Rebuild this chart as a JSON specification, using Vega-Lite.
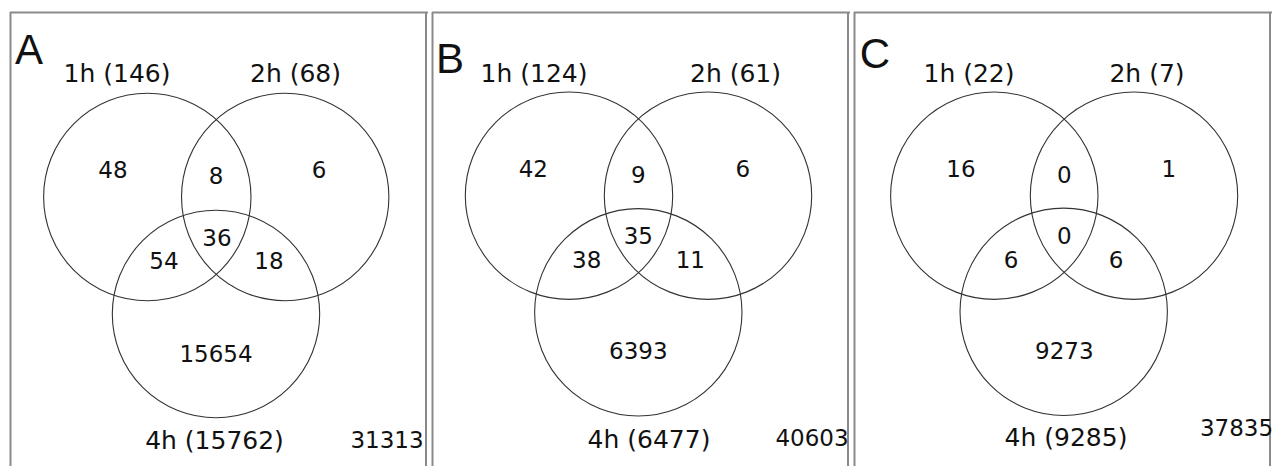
{
  "$schema": "https://vega.github.io/schema/vega-lite/v6.json",
  "padding": {"left": 9, "top": 11, "right": 5, "bottom": 0},
  "background": "white",
  "bounds": "flush",
  "data": {"values": [
    {"panel": "A", "kind": "letter", "x": 19, "y": 52, "label": "A"},
    {"panel": "A", "kind": "circle", "set": "1h", "x": 137.3, "y": 185},
    {"panel": "A", "kind": "circle", "set": "2h", "x": 275.2, "y": 185},
    {"panel": "A", "kind": "circle", "set": "4h", "x": 206, "y": 302},
    {"panel": "A", "kind": "setlabel", "x": 107, "y": 70, "label": "1h (146)"},
    {"panel": "A", "kind": "setlabel", "x": 285.5, "y": 70, "label": "2h (68)"},
    {"panel": "A", "kind": "setlabel", "x": 204.5, "y": 437, "label": "4h (15762)"},
    {"panel": "A", "kind": "count", "x": 103, "y": 166, "label": "48"},
    {"panel": "A", "kind": "count", "x": 206, "y": 172, "label": "8"},
    {"panel": "A", "kind": "count", "x": 309, "y": 166, "label": "6"},
    {"panel": "A", "kind": "count", "x": 207, "y": 234, "label": "36"},
    {"panel": "A", "kind": "count", "x": 154, "y": 257, "label": "54"},
    {"panel": "A", "kind": "count", "x": 259, "y": 257, "label": "18"},
    {"panel": "A", "kind": "count", "x": 206, "y": 350, "label": "15654"},
    {"panel": "A", "kind": "count", "x": 377, "y": 436, "label": "31313"},

    {"panel": "B", "kind": "letter", "x": 18, "y": 61, "label": "B"},
    {"panel": "B", "kind": "circle", "set": "1h", "x": 137, "y": 183.7},
    {"panel": "B", "kind": "circle", "set": "2h", "x": 276, "y": 183.7},
    {"panel": "B", "kind": "circle", "set": "4h", "x": 206.3, "y": 300.3},
    {"panel": "B", "kind": "setlabel", "x": 102, "y": 70, "label": "1h (124)"},
    {"panel": "B", "kind": "setlabel", "x": 303.5, "y": 70, "label": "2h (61)"},
    {"panel": "B", "kind": "setlabel", "x": 217, "y": 435.7, "label": "4h (6477)"},
    {"panel": "B", "kind": "count", "x": 101.3, "y": 164.7, "label": "42"},
    {"panel": "B", "kind": "count", "x": 206.3, "y": 170.7, "label": "9"},
    {"panel": "B", "kind": "count", "x": 310.7, "y": 164.7, "label": "6"},
    {"panel": "B", "kind": "count", "x": 206.3, "y": 232.3, "label": "35"},
    {"panel": "B", "kind": "count", "x": 154.7, "y": 255.7, "label": "38"},
    {"panel": "B", "kind": "count", "x": 258.3, "y": 255.7, "label": "11"},
    {"panel": "B", "kind": "count", "x": 206.3, "y": 347.3, "label": "6393"},
    {"panel": "B", "kind": "count", "x": 380, "y": 434, "label": "40603"},

    {"panel": "C", "kind": "letter", "x": 21, "y": 55.7, "label": "C"},
    {"panel": "C", "kind": "circle", "set": "1h", "x": 140.3, "y": 183.7},
    {"panel": "C", "kind": "circle", "set": "2h", "x": 280, "y": 183.7},
    {"panel": "C", "kind": "circle", "set": "4h", "x": 209.7, "y": 299.8},
    {"panel": "C", "kind": "setlabel", "x": 115, "y": 70, "label": "1h (22)"},
    {"panel": "C", "kind": "setlabel", "x": 293, "y": 70, "label": "2h (7)"},
    {"panel": "C", "kind": "setlabel", "x": 212, "y": 434, "label": "4h (9285)"},
    {"panel": "C", "kind": "count", "x": 107, "y": 164.7, "label": "16"},
    {"panel": "C", "kind": "count", "x": 210.3, "y": 171, "label": "0"},
    {"panel": "C", "kind": "count", "x": 314.7, "y": 165, "label": "1"},
    {"panel": "C", "kind": "count", "x": 210.3, "y": 232, "label": "0"},
    {"panel": "C", "kind": "count", "x": 157, "y": 255.7, "label": "6"},
    {"panel": "C", "kind": "count", "x": 262, "y": 255.7, "label": "6"},
    {"panel": "C", "kind": "count", "x": 210.3, "y": 347, "label": "9273"},
    {"panel": "C", "kind": "count", "x": 382.5, "y": 424, "label": "37835"}
  ]},
  "facet": {"column": {"field": "panel", "type": "nominal", "title": null, "header": null}},
  "spacing": 4,
  "resolve": {"scale": {"x": "shared", "y": "shared"}},
  "spec": {
    "width": 418,
    "height": 455,
    "encoding": {
      "x": {"field": "x", "type": "quantitative", "scale": {"domain": [0, 418], "nice": false, "zero": false}, "axis": null},
      "y": {"field": "y", "type": "quantitative", "scale": {"domain": [0, 455], "nice": false, "zero": false, "reverse": true}, "axis": null}
    },
    "layer": [
      {
        "transform": [{"filter": "datum.kind == 'letter'"}],
        "mark": {"type": "rule", "color": "#8a8a8a", "strokeWidth": 2},
        "encoding": {"x": {"datum": 0.5}, "y": null}
      },
      {
        "transform": [{"filter": "datum.kind == 'letter'"}],
        "mark": {"type": "rule", "color": "#8a8a8a", "strokeWidth": 2},
        "encoding": {"x": {"datum": 416}, "y": null}
      },
      {
        "transform": [{"filter": "datum.kind == 'letter'"}],
        "mark": {"type": "rule", "color": "#8a8a8a", "strokeWidth": 2},
        "encoding": {"y": {"datum": 0.5}, "x": null}
      },
      {
        "transform": [{"filter": "datum.kind == 'circle'"}],
        "mark": {"type": "point", "shape": "circle", "filled": false, "size": 43000, "stroke": "#333333", "strokeWidth": 1.1, "opacity": 1}
      },
      {
        "transform": [{"filter": "datum.kind == 'letter'"}],
        "mark": {"type": "text", "font": "Liberation Sans", "fontSize": 42, "align": "center", "baseline": "alphabetic", "color": "#111111"},
        "encoding": {"text": {"field": "label"}}
      },
      {
        "transform": [{"filter": "datum.kind == 'setlabel'"}],
        "mark": {"type": "text", "font": "DejaVu Sans", "fontSize": 25, "align": "center", "baseline": "alphabetic", "color": "#111111"},
        "encoding": {"text": {"field": "label"}}
      },
      {
        "transform": [{"filter": "datum.kind == 'count'"}],
        "mark": {"type": "text", "font": "DejaVu Sans", "fontSize": 23, "align": "center", "baseline": "alphabetic", "color": "#111111"},
        "encoding": {"text": {"field": "label"}}
      }
    ]
  },
  "config": {"view": {"stroke": null}}
}
